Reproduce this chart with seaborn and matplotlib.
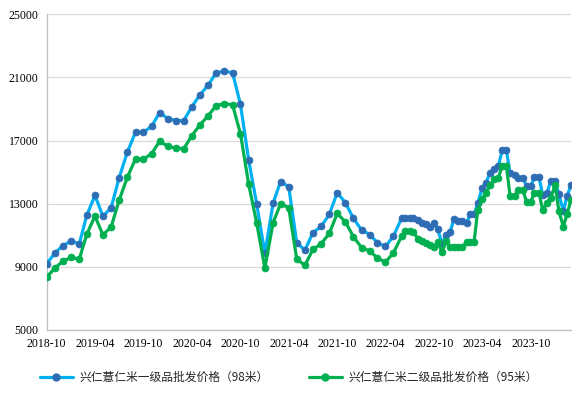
import matplotlib
matplotlib.use("Agg")
import matplotlib.pyplot as plt
import matplotlib.dates as mdates
from matplotlib.lines import Line2D
import seaborn as sns
import pandas as pd
import numpy as np

# ---------------- data ----------------
monthly_dates = pd.date_range("2018-10-01", "2022-05-01", freq="MS")
semi_dates = pd.date_range("2022-06-01", periods=43, freq="SMS")

grade1_monthly = [9200, 9870, 10350, 10630, 10460, 12260, 13530, 12200, 12750, 14630,
                  16260, 17530, 17530, 17910, 18780, 18400, 18270, 18270, 19160, 19900,
                  20510, 21300, 21400, 21300, 19290, 15750, 13000, 9850, 13030, 14400,
                  14080, 10530, 10060, 11160, 11560, 12320, 13700, 13060, 12070, 11330,
                  11050, 10530, 10290, 10950]
grade1_semi = [12090, 12090, 12090, 12090, 11960, 11800, 11690, 11540, 11750, 11370,
               10450, 10990, 11220, 12010, 11880, 11880, 11800, 12320, 12320, 13020,
               14020, 14330, 14970, 15180, 15390, 16390, 16390, 14930, 14800, 14650,
               14650, 14120, 14120, 14690, 14690, 13530, 13660, 14440, 14440, 13590,
               12540, 13490, 14210]

grade2_monthly = [8350, 8920, 9360, 9600, 9490, 11060, 12220, 11030, 11520, 13210,
                  14670, 15840, 15820, 16180, 16960, 16640, 16520, 16490, 17320, 18000,
                  18570, 19220, 19350, 19270, 17430, 14230, 11780, 8920, 11800, 13000,
                  12750, 9510, 9090, 10100, 10460, 11120, 12390, 11840, 10910, 10210,
                  10000, 9570, 9300, 9890]
grade2_semi = [10950, 11270, 11270, 11220, 10780, 10650, 10530, 10400, 10250, 10570,
               9930, 10630, 10230, 10230, 10230, 10230, 10570, 10570, 10570, 12580,
               13280, 13700, 14170, 14550, 14650, 15390, 15390, 13490, 13490, 13870,
               13870, 13130, 13130, 13700, 13700, 12580, 13060, 13380, 14170, 12540,
               11540, 12370, 13230]

series_labels = ["兴仁薏仁米一级品批发价格（98米）", "兴仁薏仁米二级品批发价格（95米）"]
y_ticks = [5000, 9000, 13000, 17000, 21000, 25000]
x_tick_dates = pd.date_range("2018-10-01", "2023-10-01", freq="6MS")

dates = list(monthly_dates) + list(semi_dates)
df = pd.DataFrame({
    "date": dates * 2,
    "price": grade1_monthly + grade1_semi + grade2_monthly + grade2_semi,
    "series": [series_labels[0]] * len(dates) + [series_labels[1]] * len(dates),
})

# ---------------- style ----------------
sns.set_style("white")
plt.rcParams["font.family"] = ["Liberation Serif", "Noto Sans CJK SC", "DejaVu Sans"]

fig = plt.figure(figsize=(5.78, 3.99), dpi=100)
ax = fig.add_axes([0.0808, 0.173, 0.9072, 0.791])

line_colors = ["#00B0F0", "#00B050"]
marker_colors = ["#2E6DB4", "#00B050"]

for lab, lc, mc in zip(series_labels, line_colors, marker_colors):
    sub = df[df["series"] == lab]
    sns.lineplot(data=sub, x="date", y="price", ax=ax, color=lc, linewidth=2.3,
                 marker="o", markersize=5, markerfacecolor=mc, markeredgecolor=mc,
                 markeredgewidth=0.5, legend=False, zorder=3)

ax.set_ylim(5000, 25000)
ax.set_yticks(y_ticks)
ax.set_xlim(dates[0], dates[-1])
ax.set_xticks(x_tick_dates)
ax.xaxis.set_major_formatter(mdates.DateFormatter("%Y-%m"))
ax.set_xlabel("")
ax.set_ylabel("")

ax.grid(axis="y", color="#D9D9D9", linewidth=0.9)
ax.grid(axis="x", visible=False)
ax.set_axisbelow(True)
for s in ["top", "right"]:
    ax.spines[s].set_visible(False)
for s in ["left", "bottom"]:
    ax.spines[s].set_color("#BFBFBF")
    ax.spines[s].set_linewidth(0.9)

ax.tick_params(axis="both", which="major", direction="out", length=4,
               color="#BFBFBF", width=0.8, labelsize=8.5, labelcolor="black", pad=2)
for t in ax.get_xticklabels() + ax.get_yticklabels():
    t.set_fontfamily(["Liberation Serif", "DejaVu Sans"])

handles = [
    Line2D([0], [0], color=line_colors[0], linewidth=2.3, marker="o", markersize=5,
           markerfacecolor=marker_colors[0], markeredgecolor=marker_colors[0]),
    Line2D([0], [0], color=line_colors[1], linewidth=2.3, marker="o", markersize=5,
           markerfacecolor=marker_colors[1], markeredgecolor=marker_colors[1]),
]
leg = fig.legend(handles, series_labels, loc="center", bbox_to_anchor=(0.5, 0.053),
                 ncol=2, frameon=False, handlelength=2.8, handletextpad=0.6,
                 columnspacing=3.35, prop={"family": ["Noto Sans CJK SC"], "size": 8.5})

fig.savefig("out.png", dpi=100)
